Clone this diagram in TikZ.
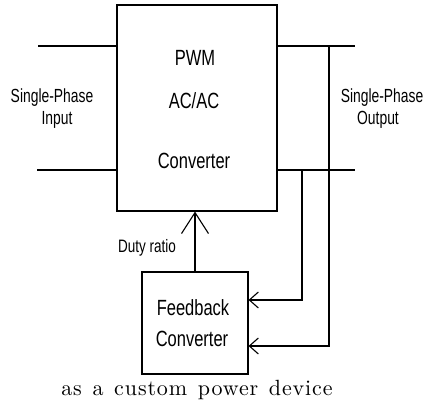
\documentclass[tikz,border=0pt]{standalone}
\usepackage{fontspec}
\newfontfamily\labfont[FakeStretch=0.73]{Liberation Sans}
\newfontfamily\boxfont[FakeStretch=0.75]{Liberation Sans}
\newfontfamily\capfont[LetterSpace=4,WordSpace=1.3]{lmroman10-regular.otf}
\usetikzlibrary{arrows.meta}
\tikzset{
  box/.style={draw, line width=1.1pt, rectangle, inner sep=0pt},
  wire/.style={line width=1.1pt},
  bigarr/.style={wire, -{Straight Barb[length=21pt,width=27pt,line width=1.1pt]}},
  smallarr/.style={wire, -{Straight Barb[length=9pt,width=16pt,line width=1.1pt]}},
  lab/.style={font=\labfont\fontsize{19}{22}\selectfont, inner sep=0pt, anchor=base},
  duty/.style={font=\boxfont\fontsize{18}{21}\selectfont, inner sep=0pt, anchor=base},
  boxtxt/.style={font=\boxfont\fontsize{22}{25}\selectfont, inner sep=0pt, anchor=base},
  captxt/.style={font=\capfont\fontsize{22}{25}\selectfont, inner sep=0pt, anchor=base}
}
\begin{document}
\begin{tikzpicture}[x=1pt,y=-1pt]
\useasboundingbox (0,0) rectangle (426,405);
% boxes
\node[box, minimum width=160pt, minimum height=206pt] (main) at (197,108) {};
\node[box, minimum width=106pt, minimum height=102pt] (fb) at (195,323) {};
% box texts
\node[boxtxt] (t1) at (195,65) {PWM};
\node[boxtxt] (t2) at (194,108) {AC/AC};
\node[boxtxt] (t3) at (194,168) {Converter};
\node[boxtxt] (f1) at (193,315) {Feedback};
\node[boxtxt] (f2) at (192,346) {Converter};
% labels
\node[lab] (li1) at (52,102) {Single-Phase};
\node[lab] (li2) at (57,124) {Input};
\node[lab] (lo1) at (382,102) {Single-Phase};
\node[lab] (lo2) at (378,124) {Output};
\node[duty] (dr) at (147,252) {Duty ratio};
\node[captxt] (cp) at (197,395) {as a custom power device};
% coordinates
\coordinate (i1) at (38,46);
\coordinate (i2) at (37,170);
\coordinate (o1) at (355,46);
\coordinate (o2) at (355,170);
\coordinate (j1) at (302,170);
\coordinate (j2) at (329,46);
\coordinate (a1) at (0,300);
\coordinate (a2) at (0,346);
% wires
\draw[wire] (i1) -- (i1 -| main.west);
\draw[wire] (i2) -- (i2 -| main.west);
\draw[wire] (o1 -| main.east) -- (o1);
\draw[wire] (o2 -| main.east) -- (o2);
\draw[smallarr] (j1) |- (fb.east |- a1);
\draw[smallarr] (j2) |- (fb.east |- a2);
\draw[bigarr] (fb.north) -- (fb.north |- main.south);
\end{tikzpicture}
\end{document}
